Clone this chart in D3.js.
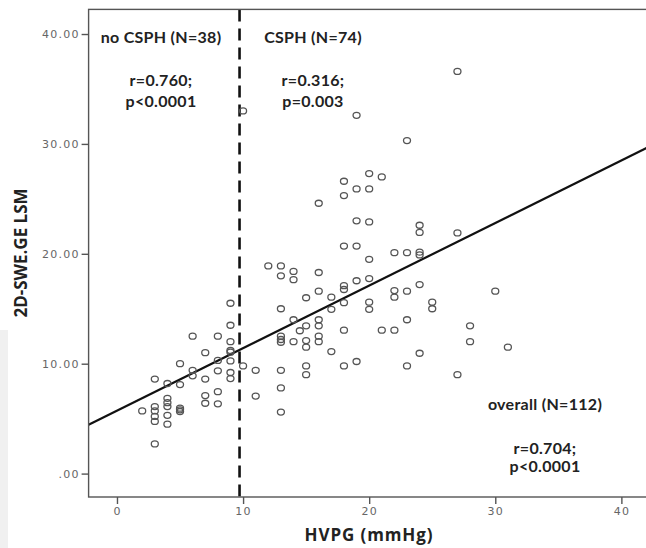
<!DOCTYPE html>
<html>
<head>
<meta charset="utf-8">
<script src="https://cdn.jsdelivr.net/npm/d3@7"></script>
<style>
  body { margin: 0; background: #fff; }
  .note { font-family: Lato, "Open Sans", sans-serif; font-weight: bold; font-size: 16px; fill: #222; letter-spacing: 0.3px; }
  .ttl { font-family: "Open Sans", sans-serif; font-weight: bold; font-size: 17px; fill: #222; }
  .tick text { font-family: "DejaVu Sans", sans-serif; font-size: 11px; fill: #666; letter-spacing: 1.2px; }
</style>
</head>
<body>
<svg id="scatter"></svg>
<script>
// HVPG (mmHg) and 2D-SWE.GE LSM
const noCsphHvpg = [2, 3, 3, 3, 3, 3, 3, 4, 4, 4, 4, 4, 4, 5, 5, 5, 5, 5,
  6, 6, 6, 7, 7, 7, 7, 8, 8, 8, 8, 8, 9, 9, 9, 9, 9, 9, 9, 9];
const noCsphLsm = [5.7, 8.6, 6.1, 5.7, 5.2, 4.75, 2.7, 8.2, 6.85, 6.45, 6.1, 5.3, 4.5, 10.0, 8.1, 5.95, 5.8, 5.65,
  12.5, 9.4, 8.9, 11.0, 8.6, 7.1, 6.4, 12.5, 10.3, 9.35, 7.45, 6.35, 15.5, 13.5, 12.0, 11.2, 11.05, 10.25, 9.2, 8.65];

const csphHvpg = [10, 10, 11, 11, 12,
  13, 13, 13, 13, 13, 13, 13, 13, 13,
  14, 14, 14, 14, 14.5,
  15, 15, 15, 15, 15, 15,
  16, 16, 16, 16, 16, 16, 16,
  17, 17, 17,
  18, 18, 18, 18, 18, 18, 18, 18,
  19, 19, 19, 19, 19, 19,
  20, 20, 20, 20, 20, 20, 20,
  21, 21, 22, 22, 22, 22,
  23, 23, 23, 23, 23,
  24, 24, 24, 24, 24, 24,
  25, 25, 27, 27, 27, 28, 28, 30, 31];
const csphLsm = [33.0, 9.8, 9.4, 7.05, 18.9,
  18.9, 18.0, 15.0, 12.5, 12.2, 11.95, 9.4, 7.8, 5.6,
  18.4, 17.65, 14.0, 12.0, 13.0,
  16.0, 13.45, 12.1, 11.5, 9.8, 9.0,
  24.6, 18.3, 16.6, 14.0, 13.45, 12.5, 12.0,
  16.05, 14.95, 11.1,
  26.6, 25.3, 20.7, 17.1, 16.75, 15.55, 13.05, 9.8,
  32.6, 25.9, 23.0, 20.7, 17.55, 10.2,
  27.3, 25.9, 22.9, 19.5, 17.75, 15.6, 14.95,
  27.0, 13.05, 20.1, 16.65, 16.05, 13.05,
  30.3, 20.1, 16.6, 14.0, 9.8,
  22.6, 21.95, 20.15, 19.9, 17.2, 10.95,
  15.6, 15.0, 36.6, 21.9, 9.0, 13.45, 12.0, 16.6, 11.5];

// overall fit and the 10 mmHg cut-off
const fitIntercept = 5.73;
const fitSlope = 0.569;
const cutOff = 9.72;

const xTicks = [0, 10, 20, 30, 40];
const yTicks = [0, 10, 20, 30, 40];
const yTickLabels = [".00", "10.00", "20.00", "30.00", "40.00"];

const notes = [
  { x: 161, y: 43, t: "no CSPH (N=38)" },
  { x: 161, y: 86, t: "r=0.760;" },
  { x: 161, y: 107, t: "p<0.0001" },
  { x: 313, y: 43, t: "CSPH (N=74)" },
  { x: 313, y: 86, t: "r=0.316;" },
  { x: 313, y: 107, t: "p=0.003" },
  { x: 545, y: 410, t: "overall (N=112)" },
  { x: 545, y: 454, t: "r=0.704;" },
  { x: 545, y: 472, t: "p<0.0001" }
];

function makeChart() {
  let w = 646;
  let h = 548;

  let left = 88.6, right = 646.6, top = 9.4, bottom = 497;

  let svg = d3.select('#scatter')
    .attr('width', w)
    .attr('height', h);

  // faint grey edge from the scanned page
  svg.append('rect')
    .attr('x', 0).attr('y', 330).attr('width', 8).attr('height', h - 330)
    .attr('fill', '#f0f0f0');

  let xScale = d3.scaleLinear()
    .domain([-2.25, 42])
    .range([left, right]);

  let yScale = d3.scaleLinear()
    .domain([-2.13, 42.24])
    .range([bottom, top]);

  svg.append('defs').append('clipPath').attr('id', 'plotclip')
    .append('rect')
    .attr('x', left).attr('y', top)
    .attr('width', right - left).attr('height', bottom - top);

  let plot = svg.append('g').attr('clip-path', 'url(#plotclip)');

  // regression line
  let xd = xScale.domain();
  plot.append('line')
    .attr('x1', xScale(xd[0]))
    .attr('y1', yScale(fitIntercept + fitSlope * xd[0]))
    .attr('x2', xScale(xd[1]))
    .attr('y2', yScale(fitIntercept + fitSlope * xd[1]))
    .attr('stroke', '#111')
    .attr('stroke-width', 2.2);

  // cut-off
  plot.append('line')
    .attr('x1', xScale(cutOff)).attr('x2', xScale(cutOff))
    .attr('y1', top).attr('y2', bottom)
    .attr('stroke', '#111')
    .attr('stroke-width', 2.6)
    .attr('stroke-dasharray', '12,7');

  let points = noCsphHvpg.map((v, i) => ({ x: v, y: noCsphLsm[i] }))
    .concat(csphHvpg.map((v, i) => ({ x: v, y: csphLsm[i] })));

  plot.selectAll('ellipse')
    .data(points)
    .enter()
    .append('ellipse')
    .attr('cx', d => xScale(d.x))
    .attr('cy', d => yScale(d.y))
    .attr('rx', 3.5)
    .attr('ry', 3.0)
    .attr('fill', 'none')
    .attr('stroke', '#555')
    .attr('stroke-width', 1.3);

  // frame
  svg.append('rect')
    .attr('x', left).attr('y', top)
    .attr('width', right + 20 - left).attr('height', bottom - top)
    .attr('fill', 'none')
    .attr('stroke', '#555')
    .attr('stroke-width', 1.4);

  //AXES
  let xAxis = d3.axisBottom(xScale).tickValues(xTicks).tickSize(7).tickPadding(3);
  let yAxis = d3.axisLeft(yScale).tickValues(yTicks).tickSize(7).tickPadding(2)
    .tickFormat((d, i) => yTickLabels[i]);

  let gx = svg.append('g')
    .attr('transform', `translate(0, ${bottom})`)
    .call(xAxis);
  let gy = svg.append('g')
    .attr('transform', `translate(${left}, 0)`)
    .call(yAxis);

  [gx, gy].forEach(g => {
    g.select('.domain').remove();
    g.selectAll('line').attr('stroke', '#555').attr('stroke-width', 1.4);
  });

  //LABELS
  svg.selectAll('text.note')
    .data(notes)
    .enter()
    .append('text')
    .attr('class', 'note')
    .attr('x', d => d.x)
    .attr('y', d => d.y)
    .attr('text-anchor', 'middle')
    .text(d => d.t);

  svg.append('text')
    .attr('class', 'ttl')
    .attr('x', 369)
    .attr('y', 541)
    .attr('text-anchor', 'middle')
    .style('letter-spacing', '0.9px')
    .text('HVPG (mmHg)');

  svg.append('text')
    .attr('class', 'ttl')
    .attr('transform', 'translate(27, 253) rotate(-90)')
    .attr('text-anchor', 'middle')
    .text('2D-SWE.GE LSM');
}

makeChart();
</script>
</body>
</html>
